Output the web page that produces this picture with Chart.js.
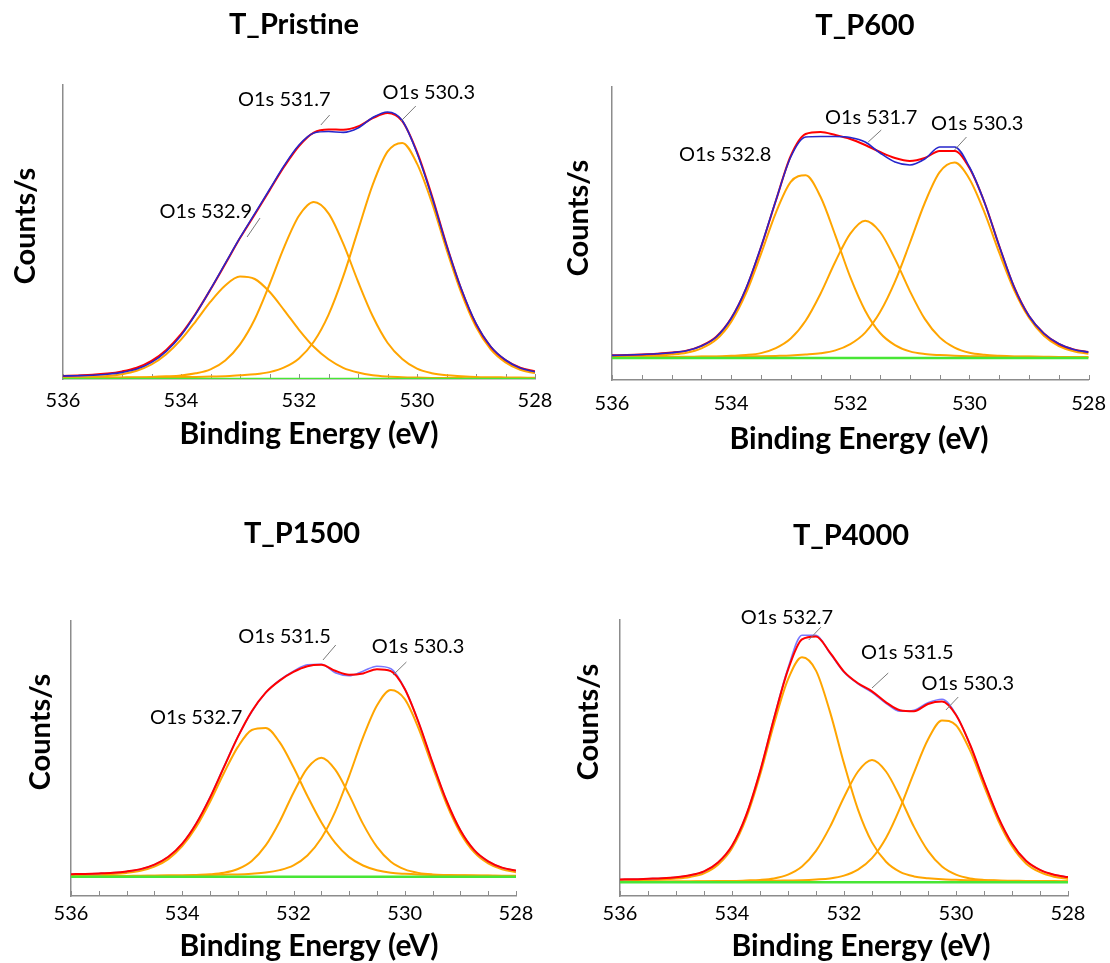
<!DOCTYPE html>
<html>
<head>
<meta charset="utf-8">
<title>O1s XPS fits</title>
<script src="https://cdn.jsdelivr.net/npm/chart.js@4.4.0/dist/chart.umd.min.js"></script>
<style>
  html, body { margin: 0; padding: 0; background: #fff; overflow: hidden; }
  #page { position: relative; width: 1110px; height: 963px; }
  canvas { position: absolute; }
</style>
</head>
<body>
<div id="page">
  <canvas id="pristine" width="555" height="475" style="left:0;top:0"></canvas>
  <canvas id="p600" width="555" height="475" style="left:555px;top:0"></canvas>
  <canvas id="p1500" width="555" height="488" style="left:0;top:475px"></canvas>
  <canvas id="p4000" width="555" height="488" style="left:555px;top:475px"></canvas>
</div>
<script>
Chart.defaults.font.family = 'Lato, "Open Sans", sans-serif';
Chart.defaults.color = '#000';

/* ---------- data (binding energy in eV, intensity in arbitrary counts) ---------- */
const energy = [536, 535.75, 535.5, 535.25, 535, 534.75, 534.5, 534.25, 534, 533.75, 533.5, 533.25,
  533, 532.75, 532.5, 532.25, 532, 531.75, 531.5, 531.25, 531, 530.75, 530.5, 530.25,
  530, 529.75, 529.5, 529.25, 529, 528.75, 528.5, 528.25, 528];
const xTicks = [536, 534, 532, 530, 528];
const bgEnergy = [536, 528];

// T_Pristine
const pristine5329 = [1.3,1.6,2.1,2.9,4.8,8.2,14.5,24.7,39.3,57.7,77.3,93.6,102.5,100.0,87.2,68.7,49.2,32.2,19.7,11.2,6.5,3.8,2.5,1.8,1.4,1.1,1.0,0.9,0.8,0.8,0.7,0.7,0.6];
const pristine5317 = [1.0,1.1,1.2,1.4,1.6,1.8,2.1,2.7,3.6,5.7,9.7,18.6,34.7,59.8,94.5,132.2,163.2,177.0,165.7,135.4,97.5,62.7,36.3,20.0,10.3,5.8,3.7,2.8,2.1,1.8,1.6,1.4,1.2];
const pristine5303 = [0.8,0.9,0.9,1.1,1.2,1.3,1.5,1.7,1.9,2.1,2.5,2.8,3.7,4.7,6.9,11.6,20.6,37.2,64.2,102.6,148.6,194.3,227.3,236.1,215.4,176.8,129.6,86.3,52.1,29.6,16.6,9.2,5.9];
const pristineFit = [3.1,3.6,4.2,5.4,7.6,11.3,18.1,29.1,44.8,65.5,89.5,115.0,140.9,164.5,188.6,212.5,233.0,246.4,249.6,249.2,252.6,260.8,266.1,257.9,227.1,183.7,134.3,90.0,55.0,32.2,18.9,11.3,7.7];
const pristineRaw = [3.0,3.3,3.8,4.8,6.6,9.9,16.6,27.7,43.6,65.0,89.8,115.6,141.3,165.4,189.5,213.6,234.0,246.0,247.5,246.6,251.0,261.5,267.0,258.5,226.0,182.5,133.8,90.2,55.6,32.5,19.0,11.0,7.2];
const pristineBg = [0, 0];

// T_P600
const p600_5328 = [1.5,1.7,2.0,2.6,3.5,5.2,9.6,18.4,36.1,64.8,103.8,145.2,176.1,182.7,161.2,122.4,80.8,47.3,25.0,12.9,6.6,4.0,2.9,2.2,1.8,1.6,1.4,1.3,1.2,1.1,1.0,0.9,0.9];
const p600_5317 = [0.6,0.7,0.8,0.9,1.0,1.2,1.4,1.6,2.2,3.0,4.9,9.9,19.5,37.3,64.3,96.5,124.4,137.3,126.0,99.1,66.9,39.1,20.6,10.3,5.2,3.2,2.2,1.6,1.4,1.2,1.0,0.9,0.8];
const p600_5303 = [0.6,0.7,0.8,0.8,0.9,1.0,1.2,1.3,1.4,1.6,1.8,2.1,2.5,3.4,4.7,7.6,13.9,25.4,45.9,76.3,115.0,155.0,185.8,195.4,179.1,145.9,105.3,68.0,40.2,22.2,12.0,6.8,4.3];
const p600Fit = [2.7,3.1,3.6,4.3,5.4,7.4,12.2,21.3,39.7,69.4,110.5,157.2,202,224,226,223,219,213,206,200,197,200,207,207,190,156,112,71,42,24.5,14.0,8.6,6.0];
const p600Raw = [2.6,3.0,3.5,4.2,5.3,7.2,12.0,21.0,39.5,69.6,111.0,157.5,201,221,221.5,221.5,220.5,216,205,196,193,199,211,211,191,156,112,71,42,24.5,14.2,8.5,5.8];
const p600Bg = [0, 0];

// T_P1500
const p1500_5327 = [1.5,1.7,2.1,2.7,3.8,5.9,10.1,17.6,30.5,49.7,75.0,103.7,129.8,146.7,148.7,134.5,109.4,80.7,54.5,33.8,19.6,11.2,6.5,4.0,2.9,2.2,1.8,1.6,1.4,1.2,1.1,1.0,1.0];
const p1500_5315 = [0.4,0.5,0.5,0.6,0.7,0.8,1.0,1.1,1.3,1.8,2.4,3.9,7.7,15.8,31.3,55.0,84.0,108.6,119.0,107.1,81.8,52.8,29.8,14.9,7.3,3.8,2.3,1.7,1.3,1.1,1.0,0.8,0.7];
const p1500_5303 = [0.6,0.6,0.7,0.7,0.8,0.9,1.0,1.2,1.3,1.5,1.7,2.0,2.3,3.0,4.1,6.6,11.4,21.2,38.4,65.0,100.6,139.3,171.2,186.7,177.6,148.2,109.9,72.9,43.8,24.3,13.3,7.3,4.5];
const p1500Fit = [2.5,2.8,3.3,4.0,5.3,7.6,12.1,19.9,33.1,53.0,79.1,109.6,139.8,165.5,184.1,196.1,204.8,210.5,211.9,205.9,202.0,203.3,207.5,205.6,187.8,154.2,114.0,76.2,46.5,26.6,15.4,9.1,6.2];
const p1500Raw = [2.4,2.7,3.2,3.9,5.2,7.4,12.0,19.8,33.0,53.2,79.5,110.0,140.0,165.0,184.0,196.5,205.5,212.0,212.5,204.0,201.0,205.5,210.5,208.0,188.0,154.0,113.5,76.0,46.5,26.5,15.2,9.0,6.0];
const p1500Bg = [0, 0];

// T_P4000
const p4000_5327 = [1.8,2.0,2.3,2.8,3.7,5.4,9.0,17.6,34.1,63.6,107.0,158.4,202.9,225.0,211.7,170.4,118.9,72.7,39.9,20.5,10.4,5.9,4.1,3.0,2.5,2.0,1.8,1.6,1.5,1.4,1.3,1.2,1.1];
const p4000_5315 = [0.5,0.5,0.6,0.6,0.7,0.9,1.0,1.2,1.3,1.8,2.4,3.9,7.7,15.8,31.4,55.4,85.1,110.8,122.3,110.8,85.1,55.4,31.4,15.8,7.7,3.9,2.4,1.8,1.3,1.2,1.0,0.9,0.7];
const p4000_5303 = [0.6,0.6,0.7,0.7,0.7,0.8,0.9,1.0,1.1,1.2,1.3,1.5,1.8,2.1,2.8,3.9,6.7,12.7,24.1,44.3,74.2,109.7,142.8,161.9,157.1,131.9,96.5,62.3,36.0,18.9,10.1,5.5,3.4];
const p4000Fit = [2.9,3.1,3.6,4.1,5.1,7.1,10.9,19.8,36.5,66.6,110.7,163.8,212.4,242.9,245.9,229.7,210.7,199,191,180,172,171.0,178.3,180.7,167.3,137.8,100.7,65.7,38.8,21.5,12.4,7.6,5.2];
const p4000Raw = [2.8,3.0,3.5,4.0,5.0,7.0,10.8,19.6,36.2,66.5,110.5,164.5,214.0,247.0,247.0,229.0,210.0,198.5,190.0,179.0,171.0,172.0,179.5,183.0,168.0,137.5,100.5,65.5,38.8,21.5,12.4,7.6,5.2];
const p4000Bg = [0, 0];

/* ---------- styles ---------- */
const ORANGE = '#ffa500';
const RED = '#ff0000';
const GREEN = '#48e636';
const AXIS = '#8c8c8c';
const X_AXIS_H = 45;

function pts(xs, ys) {
  return ys.map((y, i) => ({ x: xs[i], y: y }));
}

// titles, axis titles, peak labels and the small inner x ticks
const panelText = {
  id: 'panelText',
  beforeDatasetsDraw(chart) {
    const { ctx, chartArea, scales } = chart;
    ctx.save();
    ctx.strokeStyle = AXIS;
    ctx.lineWidth = 1;
    for (let v = 528; v <= 536; v += 0.5) {
      const x = Math.round(scales.x.getPixelForValue(v)) + 0.5;
      ctx.beginPath();
      ctx.moveTo(x, chartArea.bottom);
      ctx.lineTo(x, chartArea.bottom - 5);
      ctx.stroke();
    }
    ctx.restore();
  },
  afterDraw(chart, args, o) {
    const { ctx, scales } = chart;
    ctx.save();
    ctx.fillStyle = '#000';
    ctx.textAlign = 'center';
    ctx.textBaseline = 'alphabetic';
    ctx.font = 'bold 29px Lato';
    ctx.fillText(o.title, o.titleAt[0], o.titleAt[1]);
    ctx.font = 'bold 30px Lato';
    ctx.fillText('Binding Energy (eV)', o.xTitleAt[0], o.xTitleAt[1]);
    ctx.save();
    ctx.translate(o.yTitleAt[0], o.yTitleAt[1]);
    ctx.rotate(-Math.PI / 2);
    ctx.textBaseline = 'middle';
    ctx.font = 'bold 29px Lato';
    ctx.fillText('Counts/s', 0, 0);
    ctx.restore();

    ctx.font = '20px Lato';
    ctx.textBaseline = 'middle';
    ctx.strokeStyle = '#7a7a7a';
    ctx.lineWidth = 1;
    o.notes.forEach(n => {
      ctx.fillText(n.text, scales.x.getPixelForValue(n.at[0]), scales.y.getPixelForValue(n.at[1]));
      if (n.lead) {
        ctx.beginPath();
        ctx.moveTo(scales.x.getPixelForValue(n.lead[0]), scales.y.getPixelForValue(n.lead[1]));
        ctx.lineTo(scales.x.getPixelForValue(n.lead[2]), scales.y.getPixelForValue(n.lead[3]));
        ctx.stroke();
      }
    });
    ctx.restore();
  }
};

function panel(id, o) {
  const datasets = [
    { label: 'Raw', data: pts(energy, o.raw), borderColor: o.rawColor, borderWidth: 1.6, order: o.rawOnTop ? 0 : 1 },
    { label: 'Envelope', data: pts(energy, o.fit), borderColor: RED, borderWidth: 2, order: o.rawOnTop ? 1 : 0 },
    { label: 'Background', data: pts(bgEnergy, o.bg), borderColor: GREEN, borderWidth: 2.5, order: 2 }
  ].concat(o.peaks.map((p, k) => ({
    label: o.peakNames[k], data: pts(energy, p), borderColor: ORANGE, borderWidth: 2, order: 3
  })));

  new Chart(document.getElementById(id), {
    type: 'line',
    data: { datasets: datasets },
    options: {
      responsive: false,
      animation: false,
      devicePixelRatio: 1,
      events: [],
      layout: { padding: o.pad },
      elements: {
        point: { radius: 0 },
        line: { cubicInterpolationMode: 'monotone', fill: false }
      },
      plugins: {
        legend: { display: false },
        tooltip: { enabled: false },
        panelText: o.text
      },
      scales: {
        x: {
          type: 'linear', reverse: true, min: 528, max: 536,
          afterBuildTicks: s => { s.ticks = xTicks.map(v => ({ value: v })); },
          afterFit: s => { s.height = X_AXIS_H; },
          ticks: { color: '#000', font: { size: 20 }, padding: o.tickPad, maxRotation: 0, autoSkip: false },
          grid: { display: false },
          border: { display: true, color: AXIS, width: 1.5 }
        },
        y: {
          min: o.yRange[0], max: o.yRange[1],
          afterFit: s => { s.width = 0; },
          ticks: { display: false },
          grid: { display: false },
          border: { display: true, color: AXIS, width: 1.5 }
        }
      }
    },
    plugins: [panelText]
  });
}

panel('pristine', {
  peaks: [pristine5329, pristine5317, pristine5303], peakNames: ['O1s 532.9', 'O1s 531.7', 'O1s 530.3'],
  fit: pristineFit, raw: pristineRaw, bg: pristineBg, rawColor: '#2626cc', rawOnTop: true,
  pad: { left: 63, top: 85, right: 20, bottom: 475 - 379 - X_AXIS_H }, yRange: [0, 294], tickPad: 2,
  text: {
    title: 'T_Pristine', titleAt: [294, 34], xTitleAt: [309, 444], yTitleAt: [26, 226],
    notes: [
      { text: 'O1s 531.7', at: [532.25, 279], lead: [531.48, 264, 531.63, 254] },
      { text: 'O1s 530.3', at: [529.80, 286], lead: [530.02, 273, 530.27, 258] },
      { text: 'O1s 532.9', at: [533.58, 167], lead: [532.66, 161, 532.88, 142] }
    ]
  }
});

panel('p600', {
  peaks: [p600_5328, p600_5317, p600_5303], peakNames: ['O1s 532.8', 'O1s 531.7', 'O1s 530.3'],
  fit: p600Fit, raw: p600Raw, bg: p600Bg, rawColor: '#2626cc', rawOnTop: true,
  pad: { left: 57, top: 87, right: 18, bottom: 475 - 380 - X_AXIS_H }, yRange: [-22, 271], tickPad: 4,
  text: {
    title: 'T_P600', titleAt: [310, 35], xTitleAt: [304, 449], yTitleAt: [24, 218],
    notes: [
      { text: 'O1s 532.8', at: [534.10, 203] },
      { text: 'O1s 531.7', at: [531.65, 240], lead: [531.48, 228, 531.70, 216] },
      { text: 'O1s 530.3', at: [529.87, 234], lead: [530.05, 221, 530.25, 208] }
    ]
  }
});

panel('p1500', {
  peaks: [p1500_5327, p1500_5315, p1500_5303], peakNames: ['O1s 532.7', 'O1s 531.5', 'O1s 530.3'],
  fit: p1500Fit, raw: p1500Raw, bg: p1500Bg, rawColor: '#7878ff', rawOnTop: false,
  pad: { left: 71, top: 146, right: 39, bottom: 488 - 421 - X_AXIS_H }, yRange: [-19.3, 255.7], tickPad: -2,
  text: {
    title: 'T_P1500', titleAt: [302, 68], xTitleAt: [309, 481], yTitleAt: [41, 257],
    notes: [
      { text: 'O1s 531.5', at: [532.16, 239.7], lead: [531.24, 231.7, 531.47, 216.7] },
      { text: 'O1s 530.3', at: [529.76, 229.7], lead: [529.97, 214.7, 530.21, 201.7] },
      { text: 'O1s 532.7', at: [533.75, 159.2] }
    ]
  }
});

panel('p4000', {
  peaks: [p4000_5327, p4000_5315, p4000_5303], peakNames: ['O1s 532.7', 'O1s 531.5', 'O1s 530.3'],
  fit: p4000Fit, raw: p4000Raw, bg: p4000Bg, rawColor: '#7878ff', rawOnTop: false,
  pad: { left: 65, top: 145, right: 42, bottom: 488 - 421 - X_AXIS_H }, yRange: [-13.7, 262.3], tickPad: -2,
  text: {
    title: 'T_P4000', titleAt: [296, 70], xTitleAt: [306, 481], yTitleAt: [34, 247],
    notes: [
      { text: 'O1s 532.7', at: [533.02, 264.8], lead: [532.41, 255.3, 532.63, 242.3] },
      { text: 'O1s 531.5', at: [530.87, 229.8], lead: [531.21, 209.3, 531.50, 194.3] },
      { text: 'O1s 530.3', at: [529.79, 198.3], lead: [529.96, 185.3, 530.18, 172.3] }
    ]
  }
});
</script>
</body>
</html>
